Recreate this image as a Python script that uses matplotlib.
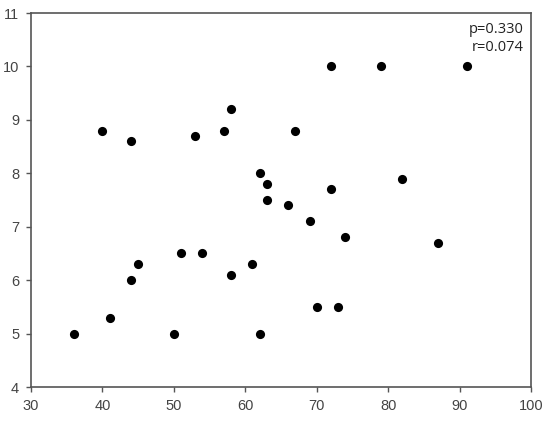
import matplotlib
matplotlib.use("Agg")
import matplotlib.pyplot as plt

# data
x_vals = [36, 41, 44, 45, 50, 51, 54, 58, 61, 62,
          40, 44, 53, 57, 58, 62, 63, 63, 66, 67,
          69, 72, 72, 79, 91, 82, 74, 87, 70, 73]
y_vals = [5.0, 5.3, 6.0, 6.3, 5.0, 6.5, 6.5, 6.1, 6.3, 5.0,
          8.8, 8.6, 8.7, 8.8, 9.2, 8.0, 7.8, 7.5, 7.4, 8.8,
          7.1, 7.7, 10.0, 10.0, 10.0, 7.9, 6.8, 6.7, 5.5, 5.5]
x_ticks = [30, 40, 50, 60, 70, 80, 90, 100]
y_ticks = [4, 5, 6, 7, 8, 9, 10, 11]
stats_text = "p=0.330\nr=0.074"

fig = plt.figure(figsize=(5.5, 4.25), dpi=100)
ax = fig.add_axes([0.0564, 0.0894, 0.9091, 0.88])

ax.plot(x_vals, y_vals, linestyle="none", marker="o", markersize=6.6,
        color="black", markeredgewidth=0)

ax.set_xlim(30, 100)
ax.set_ylim(4, 11)
ax.set_xticks(x_ticks)
ax.set_yticks(y_ticks)

for s in ax.spines.values():
    s.set_color("#555555")
    s.set_linewidth(1.2)

ax.tick_params(direction="out", length=3.5, width=1.0, color="#555555",
               labelsize=10.5, labelcolor="#444444", pad=5)
for lbl in ax.get_xticklabels() + ax.get_yticklabels():
    lbl.set_fontfamily("Liberation Sans")

ax.text(0.985, 0.975, stats_text, transform=ax.transAxes, ha="right", va="top",
        fontsize=10.5, color="#222222", family="Open Sans", linespacing=1.2)

fig.savefig("out.png", dpi=100)
